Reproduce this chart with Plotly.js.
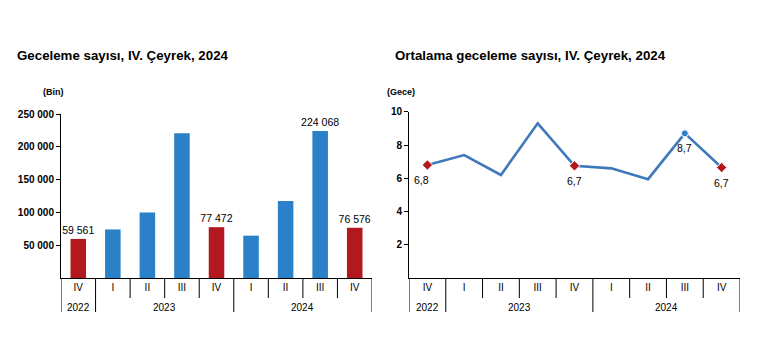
<!DOCTYPE html>
<html><head><meta charset="utf-8">
<script src="https://cdn.plot.ly/plotly-3.0.1.min.js"></script>
<style>html,body{margin:0;padding:0;background:#fff}#c{width:767px;height:355px}</style>
</head><body><div id="c"></div>
<script>
const quarters = ['IV','I','II','III','IV','I','II','III','IV'];
const yearLabels = ['2022','2023','2024'];
const yearSpans = [[0,0],[1,4],[5,8]];
const nights = [59561, 74000, 100000, 220500, 77472, 64500, 117500, 224068, 76576];
const avgNights = [6.8, 7.4, 6.2, 9.3, 6.75, 6.6, 5.95, 8.7, 6.65];
const avgLabels = ['6,8','','','','6,7','','','8,7','6,7'];
const barLabelShown = [true,false,false,false,true,false,false,true,true];
const barColors = ['#b2181d','#2a81c7','#2a81c7','#2a81c7','#b2181d','#2a81c7','#2a81c7','#2a81c7','#b2181d'];

function fmt(v){return String(v).replace(/\B(?=(\d{3})+(?!\d))/g,' ');}
const idx = quarters.map((q,i)=>i);
const barText = nights.map((v,i)=>barLabelShown[i]?fmt(v):'');

const hiIdx = avgLabels.map((t,i)=>t?i:-1).filter(i=>i>=0);
const my = hiIdx.map(i=>avgNights[i]);
const mc = hiIdx.map(i=>quarters[i]==='IV'?'#b2181d':'#2a81c7');
const ms = hiIdx.map(i=>quarters[i]==='IV'?'diamond':'circle');
const msz = hiIdx.map(i=>quarters[i]==='IV'?8:7);

const F = 'Liberation Sans, Arial, sans-serif';
const data = [
  {type:'bar', x:idx, y:nights, marker:{color:barColors}, width:0.45,
   text:barText, textposition:'outside', cliponaxis:false, constraintext:'none',
   textfont:{family:F, size:10.5, color:'#000'},
   xaxis:'x', yaxis:'y', hoverinfo:'none'},
  {type:'scatter', mode:'lines', x:idx, y:avgNights, line:{color:'#3f78bb', width:2.6},
   xaxis:'x2', yaxis:'y2', hoverinfo:'none'},
  {type:'scatter', mode:'markers', x:hiIdx, y:my,
   marker:{color:mc, symbol:ms, size:msz, opacity:1}, cliponaxis:false,
   xaxis:'x2', yaxis:'y2', hoverinfo:'none'}
];
const xa = {type:'linear', range:[-0.5,8.5], showline:true, linecolor:'#000', linewidth:1,
  ticks:'', tickvals:idx, ticktext:quarters, tickfont:{family:F, size:10, color:'#000'},
  showgrid:false, zeroline:false, fixedrange:true};
const ya = {showline:true, linecolor:'#000', linewidth:1, ticks:'outside', ticklen:4,
  tickcolor:'#000', showgrid:false, zeroline:false,
  tickfont:{family:F, size:10, color:'#000', weight:'bold'}};

const yAxisPaper = 1-278/355, yMidPaper = 1-298/355, yBotPaper = 1-312/355, yYearPaper = 1-307/355;
const shapes = [], annotations = [];
['x','x2'].forEach(ax=>{
  for (let k=0;k<=quarters.length;k++){
    const b = k-0.5;
    const isYear = yearSpans.some(s=>s[0]===k) || k===quarters.length;
    shapes.push({type:'line', xref:ax, yref:'paper', x0:b, x1:b, y0:yAxisPaper, y1:isYear?yBotPaper:yMidPaper,
      line:{color:'#000', width:1}});
  }
  yearLabels.forEach((y,j)=>{
    annotations.push({text:y, xref:ax, yref:'paper', x:(yearSpans[j][0]+yearSpans[j][1])/2, y:yYearPaper,
      showarrow:false, xanchor:'center', yanchor:'middle', font:{family:F, size:10, color:'#000'}});
  });
});
hiIdx.forEach((i,j)=>{
  annotations.push({text:avgLabels[i], xref:'x2', yref:'y2', x:i, y:avgNights[i], showarrow:false,
    xanchor:'center', yanchor:'middle', yshift:-15, xshift:(j===0?-6:0),
    font:{family:F, size:10.5, color:'#000'}});
});
annotations.push(
  {text:'<b>Geceleme sayısı, IV. Çeyrek, 2024</b>', xref:'paper', yref:'paper', x:15/767, y:1-46/355,
   xanchor:'left', yanchor:'top', showarrow:false, font:{family:F, size:13.3, color:'#000'}},
  {text:'<b>Ortalama geceleme sayısı, IV. Çeyrek, 2024</b>', xref:'paper', yref:'paper', x:393/767, y:1-46/355,
   xanchor:'left', yanchor:'top', showarrow:false, font:{family:F, size:13.3, color:'#000'}},
  {text:'<b>(Bin)</b>', xref:'paper', yref:'paper', x:41/767, y:1-85/355, xanchor:'left', yanchor:'top',
   showarrow:false, font:{family:F, size:9, color:'#000'}},
  {text:'<b>(Gece)</b>', xref:'paper', yref:'paper', x:385/767, y:1-85/355, xanchor:'left', yanchor:'top',
   showarrow:false, font:{family:F, size:9, color:'#000'}}
);
const layout = {
  width:767, height:355, margin:{l:0,r:0,t:0,b:0}, showlegend:false,
  paper_bgcolor:'#fff', plot_bgcolor:'#fff',
  xaxis:Object.assign({}, xa, {domain:[61/767, 372/767], anchor:'y'}),
  yaxis:Object.assign({}, ya, {domain:[1-278/355, 1-114/355], range:[0,250000],
     tickvals:[50000,100000,150000,200000,250000], ticktext:['50 000','100 000','150 000','200 000','250 000'], anchor:'x'}),
  xaxis2:Object.assign({}, xa, {domain:[409/767, 740/767], anchor:'y2'}),
  yaxis2:Object.assign({}, ya, {domain:[1-278.3/355, 1-111.7/355], range:[0,10],
     tickvals:[2,4,6,8,10], anchor:'x2'}),
  shapes:shapes, annotations:annotations
};
Plotly.newPlot('c', data, layout, {staticPlot:true, displayModeBar:false});
</script></body></html>
